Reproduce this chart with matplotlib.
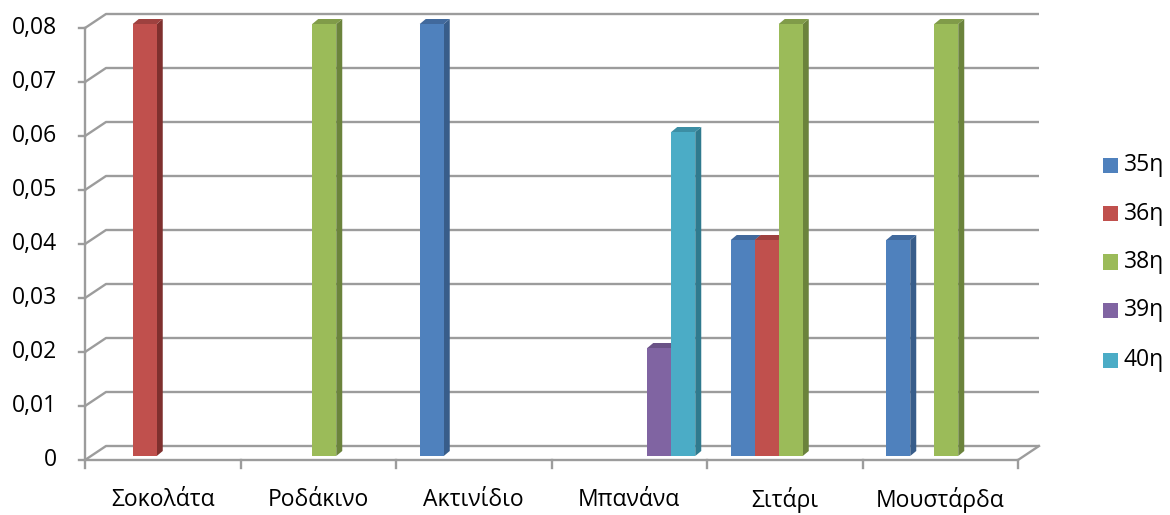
import matplotlib
matplotlib.use("Agg")
import matplotlib.pyplot as plt
from matplotlib.patches import Polygon, Rectangle

plt.rcParams['font.family'] = ['Open Sans', 'DejaVu Sans']

categories = ["Σοκολάτα", "Ροδάκινο", "Ακτινίδιο", "Μπανάνα", "Σιτάρι", "Μουστάρδα"]
series_names = ["35η", "36η", "38η", "39η", "40η"]
s35 = [0.00, 0.00, 0.08, 0.00, 0.04, 0.04]
s36 = [0.08, 0.00, 0.00, 0.00, 0.04, 0.00]
s38 = [0.00, 0.08, 0.00, 0.00, 0.08, 0.08]
s39 = [0.00, 0.00, 0.00, 0.02, 0.00, 0.00]
s40 = [0.00, 0.00, 0.00, 0.06, 0.00, 0.00]
series_values = [s35, s36, s38, s39, s40]
y_ticks = [0.00, 0.01, 0.02, 0.03, 0.04, 0.05, 0.06, 0.07, 0.08]
y_tick_labels = ["0", "0,01", "0,02", "0,03", "0,04", "0,05", "0,06", "0,07", "0,08"]

front_colors = ["#4F81BD", "#C0504D", "#9BBB59", "#8064A2", "#4BACC6"]
side_colors = ["#385D8A", "#7F302E", "#6B833C", "#5C4776", "#2F7A8E"]
top_colors = ["#41699C", "#9E413F", "#809B49", "#6A5286", "#3C8EA4"]

W, H = 1170, 515
fig = plt.figure(figsize=(W / 100, H / 100), dpi=100)
fig.patch.set_facecolor("white")

# plot region in pixels (front-left origin and back-right/top extent)
left_px, right_px, top_px, base_px = 85, 1040, 13, 460
cat_px = 155.5            # width of one category on the front plane
val_px = 432 / 0.08       # pixels per unit of value
ax = fig.add_axes([left_px / W, (H - base_px) / H,
                   (right_px - left_px) / W, (base_px - top_px) / H])
ax.set_xlim(0, (right_px - left_px) / cat_px)
ax.set_ylim(0, (base_px - top_px) / val_px)
ax.axis("off")

def dx(px):
    return px / cat_px

def dy(px):
    return px / val_px

n_cat = len(categories)
depth_x, depth_y = dx(21), dy(14)
grid_c = "#9C9C9C"
glw = 1.7
fs = 16.5

# back wall gridlines and side wall diagonals
for v in y_ticks:
    ax.plot([0, depth_x, n_cat + depth_x], [v, v + depth_y, v + depth_y],
            color=grid_c, lw=glw, clip_on=False, solid_capstyle="butt", zorder=1)
# floor front and right edges
ax.plot([0, n_cat, n_cat + depth_x], [0, 0, depth_y], color=grid_c, lw=glw,
        clip_on=False, zorder=1)
# front vertical axis
ax.plot([0, 0], [-dy(8), y_ticks[-1]], color=grid_c, lw=glw, clip_on=False, zorder=1)
for v in y_ticks:
    ax.plot([-dx(6), 0], [v, v], color=grid_c, lw=glw, clip_on=False, zorder=1)
for i in range(1, n_cat + 1):
    ax.plot([i, i], [0, -dy(8)], color=grid_c, lw=glw, clip_on=False, zorder=1)

# tick labels
for v, lab in zip(y_ticks, y_tick_labels):
    ax.text(-dx(28), v, lab, ha="right", va="center", fontsize=fs, color="black")
for i, lab in enumerate(categories):
    ax.text(i + 0.5, -dy(40), lab, ha="center", va="center", fontsize=fs, color="black")

# 3D clustered columns
slot_w = dx(24)
side_gap = (1 - len(series_names) * slot_w) / 2
plane_x, plane_y = dx(6), dy(4)
bar_dx, bar_dy = dx(6), dy(5)
z = 3
for i in range(n_cat):
    for j, vals in enumerate(series_values):
        v = vals[i]
        if v <= 0:
            continue
        x0 = i + side_gap + j * slot_w + plane_x
        x1 = x0 + slot_w
        b = plane_y
        t = plane_y + v
        side = Polygon([(x1, b), (x1 + bar_dx, b + bar_dy), (x1 + bar_dx, t + bar_dy), (x1, t)],
                       closed=True, facecolor=side_colors[j], edgecolor="none",
                       clip_on=False, zorder=z)
        top = Polygon([(x0, t), (x1, t), (x1 + bar_dx, t + bar_dy), (x0 + bar_dx, t + bar_dy)],
                      closed=True, facecolor=top_colors[j], edgecolor="none",
                      clip_on=False, zorder=z)
        ax.add_patch(side)
        ax.add_patch(top)
        ax.bar(x0, v, width=slot_w, bottom=b, align="edge", color=front_colors[j],
               edgecolor="none", clip_on=False, zorder=z + 0.5)
        z += 1

# legend
leg_y = [165, 213.5, 262, 310.5, 360]
for name, c, yp in zip(series_names, front_colors, leg_y):
    fig.patches.append(Rectangle((1103 / W, (H - yp - 7.5) / H), 15 / W, 15 / H,
                                 transform=fig.transFigure, facecolor=c, edgecolor="none"))
    fig.text(1124 / W, (H - yp) / H, name, ha="left", va="center", fontsize=fs, color="black")

fig.savefig("out.png", dpi=100, facecolor="white")
